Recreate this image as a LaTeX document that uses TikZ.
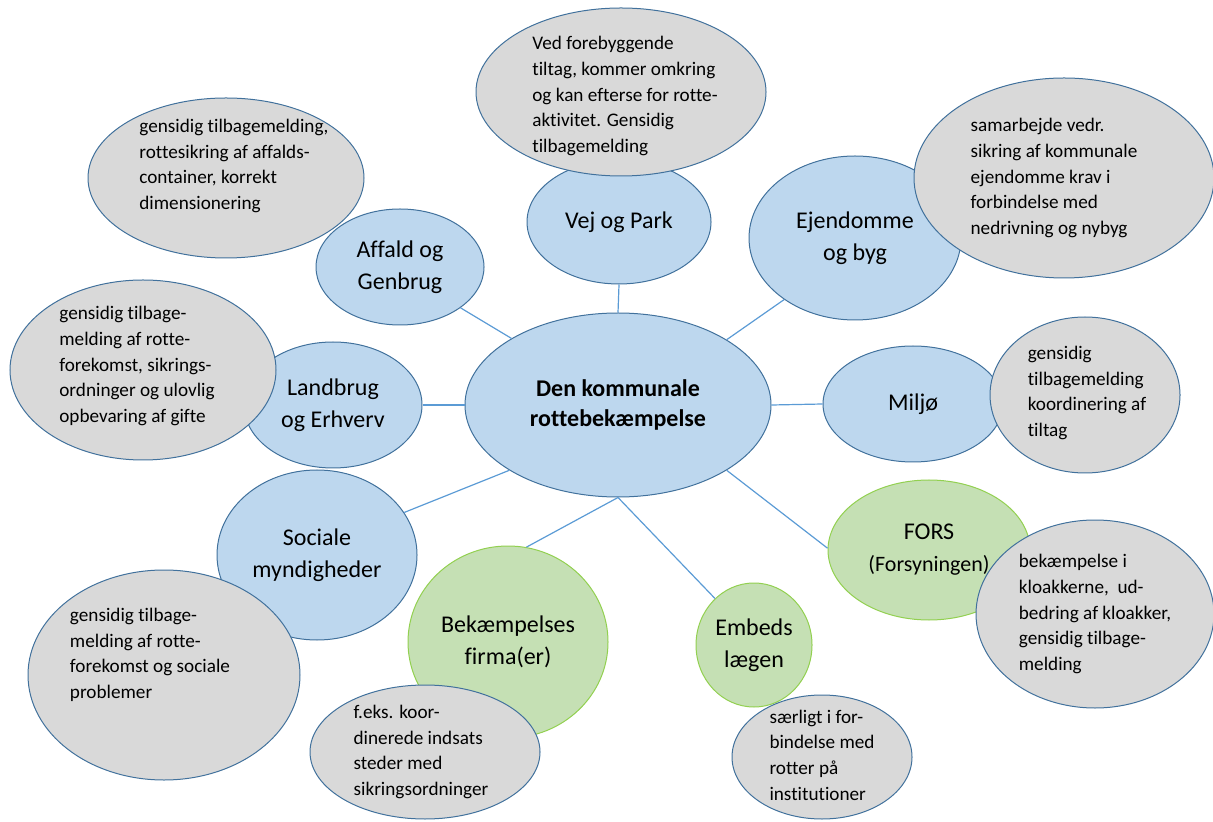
\documentclass[tikz,border=0pt]{standalone}
\usepackage{fontspec}
\setmainfont[Ligatures={NoCommon}]{Carlito}
\usetikzlibrary{shapes.geometric}

\definecolor{areablue}{HTML}{BDD7EE}
\definecolor{areagreen}{HTML}{C5E0B4}
\definecolor{notegray}{HTML}{D9D9D9}
\definecolor{rimblue}{HTML}{41719C}
\definecolor{rimgreen}{HTML}{92D050}
\definecolor{linkblue}{HTML}{5B9BD5}

\begin{document}
\begin{tikzpicture}[x=0.5pt,y=-0.5pt,
  area/.style={ellipse, draw=rimblue, fill=areablue, line width=0.5pt, inner sep=0pt, align=center, font=\fontsize{12}{16}\selectfont},
  firm/.style={area, draw=rimgreen},
  note/.style={ellipse, draw=rimblue, fill=notegray, line width=0.5pt, inner sep=0pt},
  notetext/.style={align=left, font=\fontsize{9.6}{12.8}\selectfont},
  link/.style={draw=linkblue, line width=0.6pt}]

\useasboundingbox (0,0) rectangle (1213,822);

% middle
\node[area, minimum width=153pt, minimum height=92pt, font=\fontsize{12}{15}\selectfont\bfseries] (rotte) at (618,405) {Den kommunale\\rottebekæmpelse};

% the areas round it
\node[area, minimum width=92pt, minimum height=62pt] (vej) at (619,222) {Vej og Park};
\node[area, minimum width=84pt, minimum height=58pt] (affald) at (400,267) {Affald og\\Genbrug};
\node[area, minimum width=106pt, minimum height=82pt] (ejendom) at (855,238) {Ejendomme\\og byg};
\node[area, minimum width=90pt, minimum height=58pt] (miljo) at (913,404) {Miljø};
\node[area, minimum width=89pt, minimum height=63pt] (landbrug) at (333,405) {Landbrug\\og Erhverv};
\node[area, minimum width=100pt, minimum height=85pt] (social) at (317,555) {Sociale\\myndigheder};
\node[firm, fill=areagreen, minimum width=100pt, minimum height=96pt] (firma) at (508,642) {Bekæmpelses\\firma(er)};
\node[firm, fill=areagreen, minimum width=58pt, minimum height=62pt] (embed) at (754,645) {Embeds\\lægen};
\node[firm, fill=areagreen, minimum width=101pt, minimum height=70pt] (fors) at (929,550) {FORS\\{\fontsize{11}{14}\selectfont(Forsyningen)}};

\draw[link] (rotte.north) -- (vej.south);
\draw[link] (rotte.148.6) -- (affald.-34.8);
\draw[link] (rotte.31) -- (ejendom.221.3);
\draw[link] (rotte.east) -- (miljo.west);
\draw[link] (rotte.west) -- (landbrug.east);
\draw[link] (rotte.211.8) -- (social.26.3);
\draw[link] (rotte.south) -- (firma.79.3);
\draw[link] (rotte.south) -- (embed.130);
\draw[link] (rotte.-31) -- (fors.179);

% gray notes on top
\node[note, minimum width=145pt, minimum height=84pt, label={[notetext, xshift=2pt, yshift=-2pt]center:{Ved forebyggende\\tiltag, kommer omkring\\og kan efterse for rotte-\\aktivitet. Gensidig\\tilbagemelding}}] (vejnote) at (621,92) {};
\node[note, minimum width=138pt, minimum height=80pt, label={[notetext, xshift=4pt, yshift=6pt]center:{gensidig tilbagemelding,\\rottesikring af affalds-\\container, korrekt\\dimensionering}}] (affaldnote) at (226,178) {};
\node[note, minimum width=150pt, minimum height=100pt, label={[notetext, xshift=-5pt]center:{samarbejde vedr.\\sikring af kommunale\\ejendomme krav i\\forbindelse med\\nedrivning og nybyg}}] (ejendomnote) at (1064,178) {};
\node[note, minimum width=95pt, minimum height=78pt, label={[notetext, xshift=1pt, yshift=1pt]center:{gensidig\\tilbagemelding\\koordinering af\\tiltag}}] (miljonote) at (1085,395) {};
\node[note, minimum width=133pt, minimum height=90pt, label={[notetext, xshift=-3pt, yshift=2pt]center:{gensidig tilbage-\\melding af rotte-\\forekomst, sikrings-\\ordninger og ulovlig\\opbevaring af gifte}}] (landbrugnote) at (143,370) {};
\node[note, minimum width=136pt, minimum height=105pt, label={[notetext, xshift=-7pt, yshift=10pt]center:{gensidig tilbage-\\melding af rotte-\\forekomst og sociale\\problemer}}] (socialnote) at (164,675) {};
\node[note, minimum width=115pt, minimum height=67pt, label={[notetext, xshift=-2pt]center:{f.eks. koor-\\dinerede indsats\\steder med\\sikringsordninger}}] (firmanote) at (425,752) {};
\node[note, minimum width=90pt, minimum height=62pt, label={[notetext, yshift=1pt]center:{særligt i for-\\bindelse med\\rotter på\\institutioner}}] (embednote) at (822,757) {};
\node[note, minimum width=119pt, minimum height=94pt, label={[notetext]center:{bekæmpelse i\\kloakkerne,~ ud-\\bedring af kloakker,\\gensidig tilbage-\\melding}}] (forsnote) at (1095,614) {};

\end{tikzpicture}
\end{document}
